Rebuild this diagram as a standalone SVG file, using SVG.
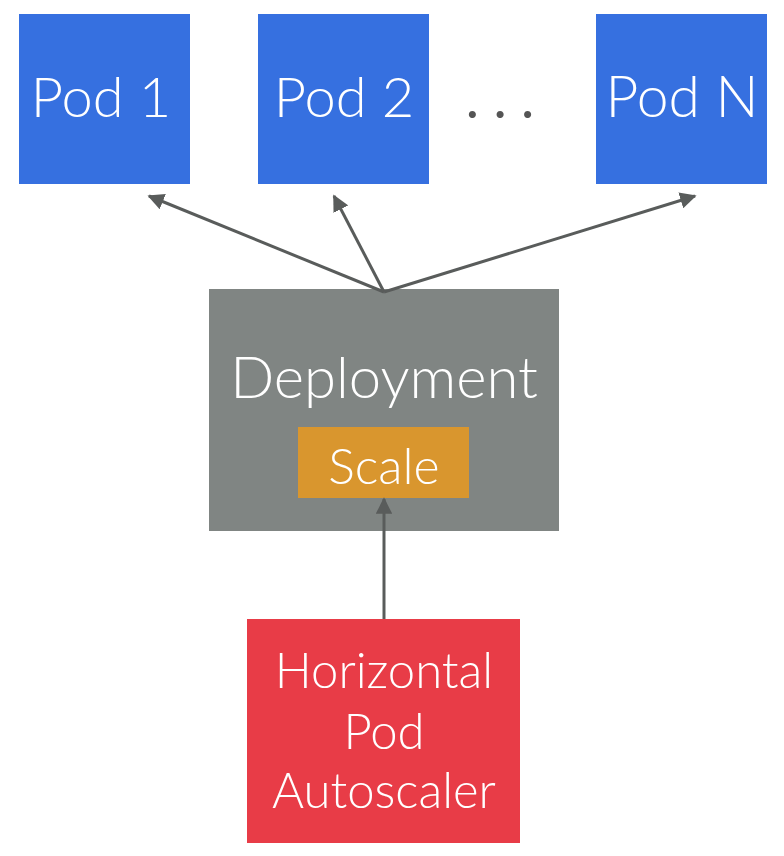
<svg xmlns="http://www.w3.org/2000/svg" width="784" height="856" viewBox="0 0 784 856">
<style>
.t{font-family:Lato,"Liberation Sans",sans-serif;font-weight:300;fill:#fff;text-anchor:middle}
.c{stroke:#595c5b;stroke-width:3;fill:none}
</style>
<defs>
<marker id="ah" viewBox="0 0 10 10" refX="9" refY="5" markerWidth="5.5" markerHeight="5.5" orient="auto" markerUnits="strokeWidth">
<path d="M0,0 L10,5 L0,10 z" fill="#595c5b"/>
</marker>
</defs>
<rect width="784" height="856" fill="#fff"/>
<g id="pod1"><rect x="19" y="14" width="171" height="170" fill="#3670e0"/><text class="t" x="101" y="117" font-size="56">Pod 1</text></g>
<g id="pod2"><rect x="258" y="14" width="171" height="170" fill="#3670e0"/><text class="t" x="344" y="117" font-size="56">Pod 2</text></g>
<g id="ellipsis"><text x="500" y="118" font-family="Lato,'Liberation Sans',sans-serif" font-weight="400" font-size="56" fill="#555" text-anchor="middle">. . .</text></g>
<g id="podN"><rect x="596" y="14" width="171" height="170" fill="#3670e0"/><text class="t" x="682" y="117" font-size="57">Pod N</text></g>
<g id="deployment"><rect x="209" y="289" width="350" height="242" fill="#808583"/><text class="t" x="384" y="398" font-size="58">Deployment</text></g>
<g id="scale"><rect x="298" y="427" width="171" height="71" fill="#d9962e"/><text class="t" x="384" y="484" font-size="50">Scale</text></g>
<g id="hpa"><rect x="247" y="619" width="273" height="224" fill="#e83c47"/>
<text class="t" font-size="49"><tspan x="384" y="688">Horizontal</tspan><tspan x="384" y="749">Pod</tspan><tspan x="384" y="808">Autoscaler</tspan></text></g>
<g id="connectors">
<line class="c" x1="384" y1="292" x2="149" y2="196" marker-end="url(#ah)"/>
<line class="c" x1="384" y1="292" x2="334" y2="196" marker-end="url(#ah)"/>
<line class="c" x1="384" y1="292" x2="695" y2="196" marker-end="url(#ah)"/>
<line class="c" x1="384" y1="619" x2="384" y2="499" marker-end="url(#ah)"/>
</g>
</svg>
